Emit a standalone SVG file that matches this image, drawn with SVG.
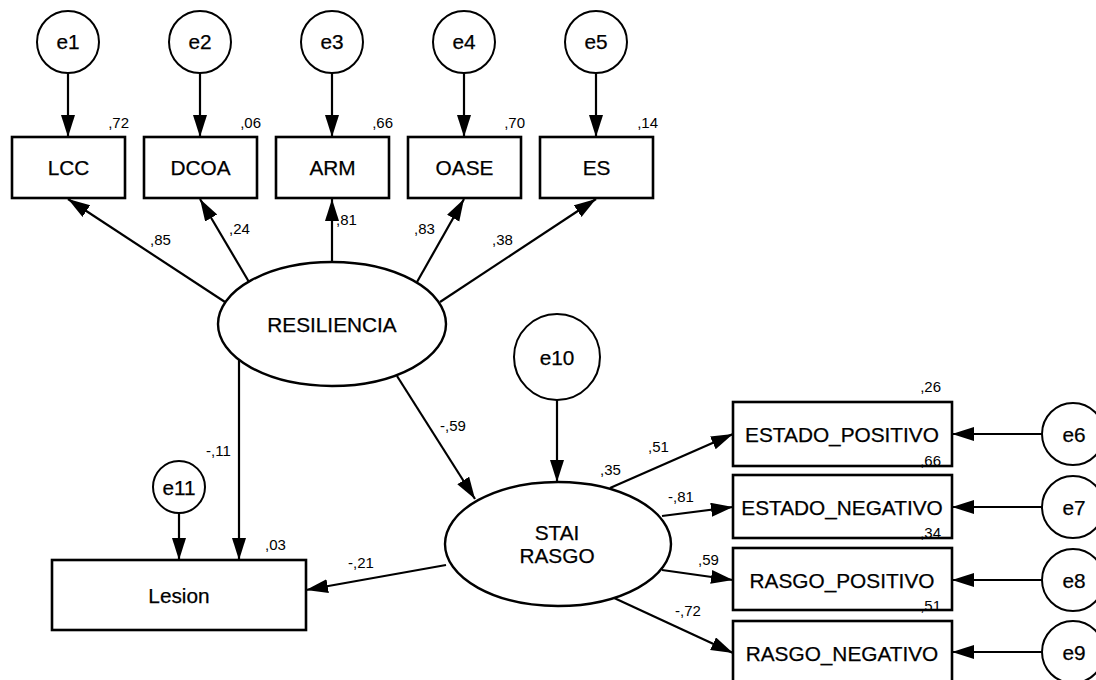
<svg xmlns="http://www.w3.org/2000/svg" width="1096" height="680" viewBox="0 0 1096 680">
  <style>
    .box { fill: #fff; stroke: #000; stroke-width: 2.6; }
    .circ { fill: #fff; stroke: #000; stroke-width: 2; }
    .ell { fill: #fff; stroke: #000; stroke-width: 2.4; }
    .lbl { font-family: "Liberation Sans", Arial, sans-serif; font-size: 20.8px; fill: #000; stroke: #000; stroke-width: 0.25; text-anchor: middle; }
    .num { font-family: "Liberation Sans", Arial, sans-serif; font-size: 15px; fill: #000; }
    .end { text-anchor: end; }
    .edge { stroke: #000; stroke-width: 2.2; fill: none; marker-end: url(#arrow); }
  </style>
  <defs>
    <marker id="arrow" markerUnits="userSpaceOnUse" markerWidth="24" markerHeight="15" refX="22" refY="7" orient="auto">
      <path d="M0,0 L22,7 L0,14 z" fill="#000"/>
    </marker>
  </defs>
  <rect width="1096" height="680" fill="#fff"/>

  <!-- connectors -->
  <g id="connectors">
    <line class="edge" x1="68" y1="73" x2="68" y2="137"/>
    <line class="edge" x1="200" y1="73" x2="200" y2="137"/>
    <line class="edge" x1="332" y1="73" x2="332" y2="137"/>
    <line class="edge" x1="464" y1="73" x2="464" y2="137"/>
    <line class="edge" x1="596" y1="73" x2="596" y2="137"/>

    <line class="edge" x1="225" y1="302" x2="68" y2="199"/>
    <line class="edge" x1="249" y1="282" x2="200" y2="199"/>
    <line class="edge" x1="332" y1="262" x2="332" y2="199"/>
    <line class="edge" x1="417" y1="282" x2="464" y2="199"/>
    <line class="edge" x1="440" y1="302" x2="596" y2="199"/>

    <line class="edge" x1="239" y1="360" x2="239" y2="560"/>
    <line class="edge" x1="397" y1="376" x2="475" y2="499"/>
    <line class="edge" x1="179" y1="513" x2="179" y2="560"/>
    <line class="edge" x1="446" y1="565" x2="306" y2="590"/>
    <line class="edge" x1="557" y1="400" x2="557" y2="482"/>

    <line class="edge" x1="610" y1="488" x2="733" y2="434"/>
    <line class="edge" x1="662" y1="516" x2="733" y2="507"/>
    <line class="edge" x1="662" y1="570" x2="733" y2="580"/>
    <line class="edge" x1="612" y1="597" x2="733" y2="653"/>

    <line class="edge" x1="1042" y1="434" x2="952" y2="434"/>
    <line class="edge" x1="1042" y1="507" x2="952" y2="507"/>
    <line class="edge" x1="1042" y1="580" x2="952" y2="580"/>
    <line class="edge" x1="1042" y1="652" x2="952" y2="652"/>
  </g>

  <!-- path coefficients -->
  <g id="coefficients">
    <text class="num" x="150" y="245">,85</text>
    <text class="num" x="229" y="234">,24</text>
    <text class="num" x="336" y="225">,81</text>
    <text class="num" x="414" y="234">,83</text>
    <text class="num" x="492" y="245">,38</text>
    <text class="num" x="206" y="456">-,11</text>
    <text class="num" x="440" y="431">-,59</text>
    <text class="num" x="348" y="568">-,21</text>
    <text class="num" x="648" y="452">,51</text>
    <text class="num" x="668" y="502">-,81</text>
    <text class="num" x="698" y="565">,59</text>
    <text class="num" x="675" y="616">-,72</text>
  </g>

  <!-- error terms -->
  <g id="e1"><circle class="circ" cx="68" cy="42" r="31"/><text class="lbl" x="68" y="49">e1</text></g>
  <g id="e2"><circle class="circ" cx="200" cy="42" r="31"/><text class="lbl" x="200" y="49">e2</text></g>
  <g id="e3"><circle class="circ" cx="332" cy="42" r="31"/><text class="lbl" x="332" y="49">e3</text></g>
  <g id="e4"><circle class="circ" cx="464" cy="42" r="31"/><text class="lbl" x="464" y="49">e4</text></g>
  <g id="e5"><circle class="circ" cx="596" cy="42" r="31"/><text class="lbl" x="596" y="49">e5</text></g>

  <!-- indicators of RESILIENCIA -->
  <g id="LCC"><rect class="box" x="12" y="137" width="113" height="61"/><text class="lbl" x="68.5" y="175">LCC</text><text class="num end" x="129" y="128">,72</text></g>
  <g id="DCOA"><rect class="box" x="144" y="137" width="113" height="61"/><text class="lbl" x="200.5" y="175">DCOA</text><text class="num end" x="261" y="128">,06</text></g>
  <g id="ARM"><rect class="box" x="276" y="137" width="113" height="61"/><text class="lbl" x="332.5" y="175">ARM</text><text class="num end" x="393" y="128">,66</text></g>
  <g id="OASE"><rect class="box" x="408" y="137" width="113" height="61"/><text class="lbl" x="464.5" y="175">OASE</text><text class="num end" x="525" y="128">,70</text></g>
  <g id="ES"><rect class="box" x="540" y="137" width="113" height="61"/><text class="lbl" x="596.5" y="175">ES</text><text class="num end" x="658" y="128">,14</text></g>

  <!-- latent variables -->
  <g id="RESILIENCIA"><ellipse class="ell" cx="332" cy="324" rx="114" ry="62"/><text class="lbl" x="332" y="332">RESILIENCIA</text></g>
  <g id="STAI_RASGO"><ellipse class="ell" cx="558" cy="544" rx="113" ry="62"/><text class="lbl" x="557" y="540">STAI</text><text class="lbl" x="557" y="563">RASGO</text><text class="num" x="600" y="475">,35</text></g>
  <g id="e10"><circle class="circ" cx="557" cy="357" r="43"/><text class="lbl" x="557" y="365">e10</text></g>

  <!-- outcome -->
  <g id="Lesion"><rect class="box" x="52" y="560" width="254" height="70"/><text class="lbl" x="179" y="603">Lesion</text><text class="num" x="265" y="550">,03</text></g>
  <g id="e11"><circle class="circ" cx="179" cy="487" r="26"/><text class="lbl" x="179" y="495">e11</text></g>

  <!-- indicators of STAI RASGO -->
  <g id="ESTADO_POSITIVO"><rect class="box" x="733" y="402" width="219" height="64"/><text class="lbl" x="842" y="442">ESTADO_POSITIVO</text><text class="num end" x="941" y="392">,26</text></g>
  <g id="ESTADO_NEGATIVO"><rect class="box" x="733" y="475" width="219" height="63"/><text class="lbl" x="842" y="515">ESTADO_NEGATIVO</text><text class="num end" x="941" y="466">,66</text></g>
  <g id="RASGO_POSITIVO"><rect class="box" x="733" y="548" width="219" height="62"/><text class="lbl" x="842" y="588">RASGO_POSITIVO</text><text class="num end" x="941" y="538">,34</text></g>
  <g id="RASGO_NEGATIVO"><rect class="box" x="733" y="621" width="219" height="63"/><text class="lbl" x="842" y="661">RASGO_NEGATIVO</text><text class="num end" x="941" y="611">,51</text></g>

  <g id="e6"><circle class="circ" cx="1073" cy="434" r="31"/><text class="lbl" x="1074" y="442">e6</text></g>
  <g id="e7"><circle class="circ" cx="1073" cy="507" r="31"/><text class="lbl" x="1074" y="515">e7</text></g>
  <g id="e8"><circle class="circ" cx="1073" cy="580" r="31"/><text class="lbl" x="1074" y="588">e8</text></g>
  <g id="e9"><circle class="circ" cx="1073" cy="652" r="31"/><text class="lbl" x="1074" y="660">e9</text></g>
</svg>
